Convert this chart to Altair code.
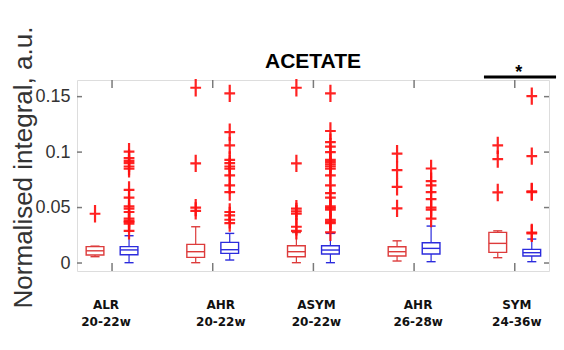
import altair as alt
import pandas as pd

# ---- data -------------------------------------------------------------
groups = ["ALR", "AHR", "ASYM", "AHR", "SYM"]
weeks = ["20-22w", "20-22w", "20-22w", "26-28w", "24-36w"]
series = ["red", "blue"]

# box statistics, per group: (red, blue)
q1 = [0.0072, 0.0075, 0.0051, 0.0087, 0.0057, 0.0081, 0.0063, 0.0081, 0.0096, 0.0063]
median = [0.0110, 0.0118, 0.0102, 0.0120, 0.0102, 0.0117, 0.0102, 0.0132, 0.0177, 0.0093]
q3 = [0.0148, 0.0148, 0.0168, 0.0186, 0.0156, 0.0156, 0.0147, 0.0183, 0.0276, 0.0123]
whisk_lo = [0.0057, 0.0003, 0.0003, 0.0027, 0.0003, 0.0003, 0.0018, 0.0012, 0.0048, 0.0012]
whisk_hi = [0.0152, 0.0246, 0.0327, 0.0267, 0.0275, 0.0267, 0.0200, 0.0333, 0.0290, 0.0216]

outliers = [
    [0.0444],
    [0.029, 0.0355, 0.037, 0.038, 0.040, 0.046, 0.049, 0.051, 0.059, 0.066,
     0.085, 0.087, 0.090, 0.092, 0.0945, 0.1005],
    [0.047, 0.050, 0.0898, 0.158],
    [0.036, 0.039, 0.043, 0.046, 0.064, 0.070, 0.079, 0.085, 0.087, 0.090,
     0.093, 0.106, 0.118, 0.153],
    [0.029, 0.0327, 0.0444, 0.0465, 0.049, 0.0898, 0.158],
    [0.0276, 0.036, 0.0375, 0.039, 0.048, 0.0495, 0.051, 0.059, 0.063, 0.070,
     0.079, 0.085, 0.087, 0.089, 0.091, 0.093, 0.100, 0.105, 0.109, 0.119, 0.153],
    [0.0492, 0.0687, 0.0837, 0.0987],
    [0.040, 0.048, 0.050, 0.0576, 0.064, 0.070, 0.0738, 0.0852],
    [0.0636, 0.0936, 0.106],
    [0.0267, 0.0275, 0.064, 0.0645, 0.0963, 0.1505],
]

y_ticks = [0, 0.05, 0.1, 0.15]
label_shift = [-0.06, 0.08, 0.03, 0.04, 0.02]
chart_title = "ACETATE"

# ---- layout helpers ---------------------------------------------------
W, H = 472, 191
pair_off = 0.169
half_box = 0.088
half_cap = 0.045
box_colors = {"red": "#dd3b3b", "blue": "#2b2bdd"}
sans = "Liberation Sans, Arial, sans-serif"
x_scale = alt.Scale(domain=[0.652, 5.34], nice=False, zero=False)
y_scale = alt.Scale(domain=[-0.0072, 0.165], nice=False, zero=False)
y_axis = alt.Axis(
    values=y_ticks, format="~g", ticks=False, domain=False, grid=False,
    labelFont=sans, labelFontSize=18, labelColor="#333", labelPadding=7,
    title="Normalised integral, a.u.", titleFont=sans,
    titleFontSize=26, titleFontWeight="normal", titleColor="#333", titleAngle=270,
    titleAlign="center", titleBaseline="middle", titleX=-54, titleY=87)

rows = []
out_rows = []
for i in range(10):
    g = i // 2 + 1
    s = series[i % 2]
    pos = g + (-pair_off if s == "red" else pair_off)
    rows.append(dict(pos=pos, xl=pos - half_box, xr=pos + half_box,
                     cl=pos - half_cap, cr=pos + half_cap,
                     q1=q1[i], med=median[i], q3=q3[i],
                     lo=whisk_lo[i], hi=whisk_hi[i], col=box_colors[s]))
    for v in outliers[i]:
        out_rows.append(dict(pos=pos, v=v))
boxes = pd.DataFrame(rows)
outs = pd.DataFrame(out_rows)

X = lambda f: alt.X(f, type="quantitative", scale=x_scale, axis=None)
Y = lambda f: alt.Y(f, type="quantitative", scale=y_scale, axis=y_axis)
col = alt.Color("col:N", scale=None)

base = alt.Chart(boxes)

whisk_low = base.mark_rule(strokeWidth=1.2).encode(x=X("pos"), y=Y("lo"), y2="q1", color=col)
whisk_up = base.mark_rule(strokeWidth=1.2).encode(x=X("pos"), y=Y("q3"), y2="hi", color=col)
cap_low = base.mark_rule(strokeWidth=1.4).encode(x=X("cl"), x2="cr", y=Y("lo"), color=col)
cap_up = base.mark_rule(strokeWidth=1.4).encode(x=X("cl"), x2="cr", y=Y("hi"), color=col)
box = base.mark_rect(fillOpacity=0, strokeWidth=1.4).encode(
    x=X("xl"), x2="xr", y=Y("q1"), y2="q3", stroke=alt.Stroke("col:N", scale=None))
med = base.mark_rule(strokeWidth=1.4).encode(x=X("xl"), x2="xr", y=Y("med"), color=col)

plus = "M -0.62 0 L 0.62 0 M 0 -1 L 0 1"
pts = alt.Chart(outs).mark_point(shape=plus, size=300, filled=False, color="#ff1010",
                                 strokeWidth=2.2, opacity=0.92).encode(x=X("pos"), y=Y("v"))

# frame ticks (pointing inwards, MATLAB style)
tick_df = pd.DataFrame({"v": y_ticks})
grp_df = pd.DataFrame({"g": [1, 2, 3, 4, 5]})
tick_style = dict(color="#7a7a7a", strokeWidth=1.5)
tl = alt.Chart(tick_df).mark_rule(**tick_style).encode(y=Y("v"), x=alt.value(0), x2=alt.value(5))
tr = alt.Chart(tick_df).mark_rule(**tick_style).encode(y=Y("v"), x=alt.value(W), x2=alt.value(W - 5))
tt = alt.Chart(grp_df).mark_rule(**tick_style).encode(x=X("g"), y=alt.value(0), y2=alt.value(8))
tb = alt.Chart(grp_df).mark_rule(**tick_style).encode(x=X("g"), y=alt.value(H), y2=alt.value(H - 8))

# group labels under the axis
lab_df = pd.DataFrame({"x": [g + s for g, s in zip([1, 2, 3, 4, 5], label_shift)],
                       "name": groups, "wk": weeks, "y1": -0.0375, "y2": -0.0530})
lab_style = dict(font="DejaVu Sans", fontWeight="bold", fontSize=12, color="#111",
                 align="center", baseline="middle")
lab1 = alt.Chart(lab_df).mark_text(**lab_style).encode(x=X("x"), y=Y("y1"), text="name:N")
lab2 = alt.Chart(lab_df).mark_text(**lab_style).encode(x=X("x"), y=Y("y2"), text="wk:N")

# title above the frame, centred on the plot
title_df = pd.DataFrame({"t": [chart_title], "x": [2.996], "y": [0.1757]})
title = alt.Chart(title_df).mark_text(font=sans, fontSize=21, fontWeight="bold", color="black",
                                      baseline="alphabetic", align="center").encode(
    x=X("x"), y=Y("y"), text="t:N")

# significance marker between the SYM pair
sig_df = pd.DataFrame({"x1": [4.694], "x2": [5.41], "y": [0.1676], "xs": [5.04], "ys": [0.1712]})
sig_bar = alt.Chart(sig_df).mark_rule(color="black", strokeWidth=3).encode(
    x=X("x1"), x2="x2", y=Y("y"))
sig_star = alt.Chart(sig_df).mark_text(text="*", fontSize=18, fontWeight="bold", color="black",
                                       baseline="middle").encode(x=X("xs"), y=Y("ys"))

chart = alt.layer(
    tl, tr, tt, tb, whisk_low, whisk_up, cap_low, cap_up, box, med, pts,
    lab1, lab2, title, sig_bar, sig_star,
).properties(
    width=W, height=H,
    autosize=alt.AutoSizeParams(type="none"),
    padding={"left": 77, "top": 80, "right": 15, "bottom": 79},
).configure_view(stroke="#8c8c8c", strokeWidth=1.6).configure(background="white")

chart.save("out.html", embed_options={"renderer": "svg", "actions": False})
